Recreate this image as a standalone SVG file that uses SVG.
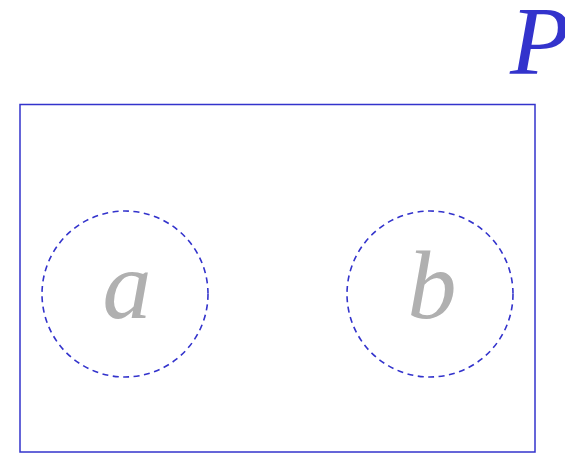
<svg xmlns="http://www.w3.org/2000/svg" width="565" height="453" viewBox="0 0 565 453">
<style>
.lbl{font-family:"Liberation Serif","Times New Roman",serif;font-style:italic;font-size:98px;text-anchor:middle}
.set{fill:none;stroke:#3333cc;stroke-width:1.6;stroke-dasharray:6,4.5}
</style>
<rect width="565" height="453" fill="#fff"/>
<g id="P">
<rect x="20" y="104.5" width="515" height="347.5" fill="none" stroke="#3333cc" stroke-width="1.5"/>
<text x="510" y="74" font-family="'Liberation Serif','Times New Roman',serif" font-style="italic" font-size="98" fill="#3333cc">P</text>
</g>
<g id="a">
<circle class="set" cx="125" cy="294" r="83"/>
<text class="lbl" x="127" y="318" fill="#b0b0b0">a</text>
</g>
<g id="b">
<circle class="set" cx="430" cy="294" r="83"/>
<text class="lbl" x="432" y="318" fill="#b0b0b0">b</text>
</g>
<g id="connectors"/>
</svg>
